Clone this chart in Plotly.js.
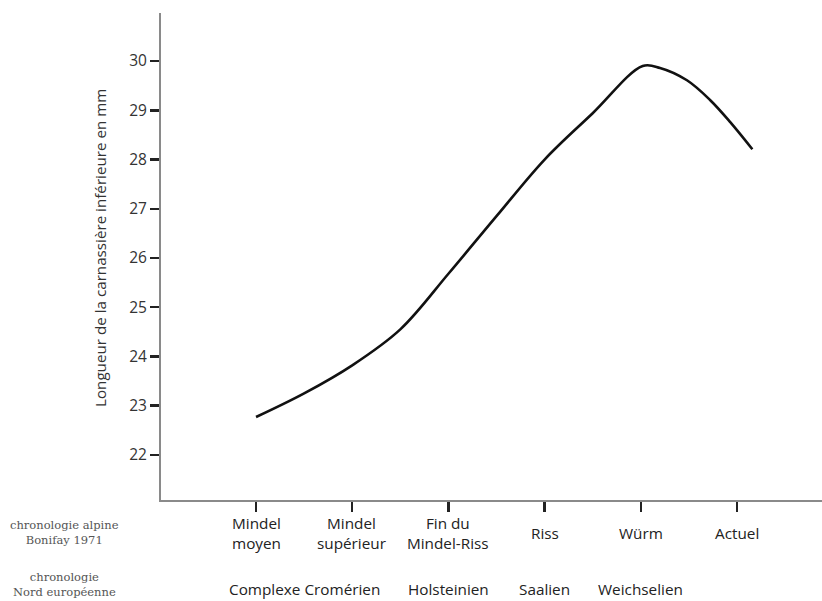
<!DOCTYPE html>
<html>
<head>
<meta charset="utf-8">
<script src="https://cdn.plot.ly/plotly-3.0.1.min.js"></script>
<style>html,body{margin:0;padding:0;background:#fff;}#chart{width:822px;height:601px;}</style>
</head>
<body>
<div id="chart"></div>
<script>
// Category tick labels (chronologie alpine, Bonifay 1971)
const alpineLabels = ["Mindel<br>moyen", "Mindel<br>supérieur", "Fin du<br>Mindel-Riss", "Riss", "Würm", "Actuel"];
const categoryPositions = [0, 1, 2, 3, 4, 5];
// Northern European chronology labels and their positions on the category axis
const nordLabels = ["Complexe Cromérien", "Holsteinien", "Saalien", "Weichselien"];
const nordPositions = [0.5, 2, 3, 4];
// Curve (x on category scale, y = length in mm)
const curveX = [0, 0.5, 1.0, 1.5, 2.0, 2.5, 3.0, 3.5, 4.02, 4.2, 4.48, 4.72, 4.93, 5.16];
const curveY = [22.77, 23.25, 23.82, 24.55, 25.68, 26.85, 28.0, 28.94, 29.9, 29.86, 29.61, 29.21, 28.76, 28.21];
const yTicks = [22, 23, 24, 25, 26, 27, 28, 29, 30];
const yTitle = "Longueur de la carnassière inférieure en mm";
const leftLabels = ["chronologie alpine<br>Bonifay 1971", "chronologie<br>Nord européenne"];

const sans = "Open Sans, Lato, sans-serif";
const serif = "DejaVu Serif, Liberation Serif, serif";

const plotTop = 13, plotBottom = 500, plotLeft = 161, plotRight = 822;
function paperY(py) { return (plotBottom - py) / (plotBottom - plotTop); }
function paperX(px) { return (px - plotLeft) / (plotRight - plotLeft); }

const annotations = [];
alpineLabels.forEach((t, i) => {
  annotations.push({x: categoryPositions[i], xref: 'x', y: paperY(533), yref: 'paper',
    text: t, showarrow: false, xanchor: 'center', yanchor: 'middle',
    font: {family: sans, size: 15.3, color: '#222'}, align: 'center'});
});
nordLabels.forEach((t, i) => {
  annotations.push({x: nordPositions[i], xref: 'x', y: paperY(589), yref: 'paper',
    text: t, showarrow: false, xanchor: 'center', yanchor: 'middle',
    font: {family: sans, size: 15.3, color: '#222'}});
});
const leftY = [532, 584];
leftLabels.forEach((t, i) => {
  annotations.push({x: paperX(64), xref: 'paper', y: paperY(leftY[i]), yref: 'paper',
    text: t, showarrow: false, xanchor: 'center', yanchor: 'middle',
    font: {family: serif, size: 11.5, color: '#555'}, align: 'center'});
});
annotations.push({x: paperX(100), xref: 'paper', y: paperY(248), yref: 'paper',
  text: yTitle, textangle: -90, showarrow: false, xanchor: 'center', yanchor: 'middle',
  font: {family: sans, size: 15.2, color: '#333'}});

const trace = {x: curveX, y: curveY, mode: 'lines', type: 'scatter',
  line: {color: '#111', width: 2.6, shape: 'spline', smoothing: 1}, hoverinfo: 'none'};

const layout = {
  width: 822, height: 601,
  margin: {l: plotLeft, r: 0, t: plotTop, b: 601 - plotBottom, pad: 0},
  paper_bgcolor: '#fff', plot_bgcolor: '#fff',
  showlegend: false,
  xaxis: {range: [-0.988, 5.884], tickvals: categoryPositions, ticktext: categoryPositions.map(() => ''),
    showgrid: false, zeroline: false, showline: true, linecolor: '#8a8a8a', linewidth: 2,
    ticks: 'outside', ticklen: 10, tickwidth: 2.5, tickcolor: '#222', fixedrange: true},
  yaxis: {range: [21.085, 30.976], tickvals: yTicks, ticktext: yTicks.map(String),
    showgrid: false, zeroline: false, showline: true, linecolor: '#8a8a8a', linewidth: 2,
    ticks: 'outside', ticklen: 9, tickwidth: 2.5, tickcolor: '#222',
    tickfont: {family: sans, size: 15.5, color: '#333'},
    fixedrange: true},
  annotations: annotations
};
Plotly.newPlot('chart', [trace], layout, {displayModeBar: false, staticPlot: true});
</script>
</body>
</html>
